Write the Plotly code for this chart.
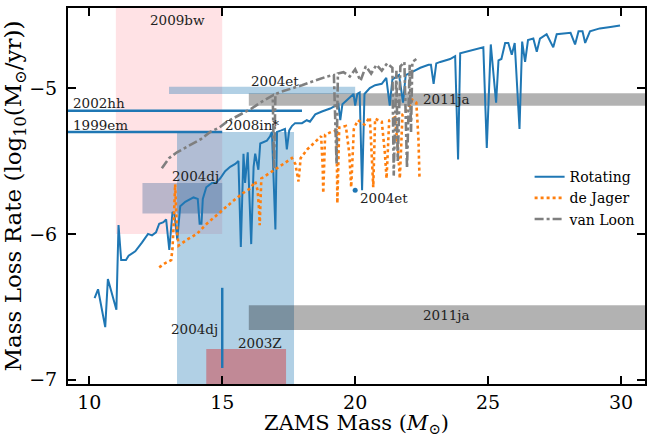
import plotly.graph_objects as go

# ---------------- data ----------------
rot_x = [10.20, 10.33, 10.60, 10.70, 11.02, 11.10, 11.20, 11.38, 11.48, 11.73, 11.98, 12.21, 12.36, 12.51,
         12.63, 12.79, 12.89, 13.01, 13.13, 13.20, 13.31, 13.42, 13.61, 13.92, 14.08, 14.15, 14.22, 14.27,
         14.40, 14.61, 14.75, 14.92, 15.11, 15.30, 15.49, 15.61, 15.70, 15.80, 15.86, 15.96, 16.09, 16.18,
         16.24, 16.36, 16.43, 16.55, 16.68, 16.80, 16.87, 17.00, 17.06, 17.22, 17.36, 17.43, 17.52, 17.62,
         17.74, 18.00, 18.18, 18.30, 18.50, 18.75, 19.06, 19.37, 19.44, 19.52, 19.81, 19.94, 20.00, 20.08,
         20.17, 20.26, 20.35, 20.55, 20.75, 21.00, 21.17, 21.30, 21.40, 21.65, 21.80, 21.90, 22.13, 22.45,
         22.76, 22.85, 22.95, 23.05, 23.20, 23.35, 23.57, 23.76, 23.87, 23.95, 24.38, 24.82, 24.95, 25.10,
         25.30, 25.39, 25.50, 25.64, 25.76, 25.89, 26.00, 26.18, 26.28, 26.39, 26.50, 26.70, 26.83, 26.95,
         27.20, 27.45, 27.58, 27.96, 28.10, 28.27, 28.40, 28.55, 28.65, 28.83, 29.20, 29.60, 29.96]
rot_y = [-6.44, -6.38, -6.64, -6.31, -6.52, -5.94, -6.18, -6.18, -6.15, -6.12, -6.06, -6.00, -6.01, -5.99,
         -5.93, -5.92, -5.90, -6.11, -5.85, -5.86, -6.04, -5.81, -5.78, -5.75, -5.76, -5.93, -5.93, -5.76,
         -5.68, -5.65, -5.65, -5.62, -5.57, -5.54, -5.52, -5.50, -6.09, -5.45, -5.65, -5.44, -6.07, -5.54,
         -5.45, -5.56, -5.38, -5.37, -5.36, -5.33, -5.30, -5.97, -5.30, -5.29, -5.28, -5.42, -5.29, -5.26,
         -5.24, -5.24, -5.22, -5.23, -5.18, -5.16, -5.14, -5.11, -5.22, -5.11, -5.06, -5.04, -5.12, -5.04,
         -5.03, -5.70, -5.04, -5.00, -4.98, -4.97, -4.93, -5.12, -4.94, -4.91, -5.10, -4.91, -4.89, -4.86,
         -4.84, -4.84, -4.97, -4.83, -4.82, -4.81, -4.80, -4.78, -5.49, -4.76, -4.74, -4.72, -5.41, -4.70,
         -5.10, -4.81, -4.80, -4.69, -4.69, -4.77, -4.69, -5.28, -4.68, -4.82, -4.67, -4.66, -4.75, -4.66,
         -4.63, -4.72, -4.63, -4.62, -4.62, -4.70, -4.61, -4.61, -4.69, -4.61, -4.59, -4.58, -4.57]

dej_x = [12.63, 12.86, 13.08, 13.13, 13.17, 13.20, 13.23, 13.27, 13.31, 13.36, 13.67, 14.05, 14.42, 14.80,
         15.18, 15.50, 15.86, 16.05, 16.24, 16.33, 16.38, 16.41, 16.47, 16.90, 17.30, 17.62, 17.75, 17.87,
         17.95, 18.20, 18.55, 18.72, 18.78, 18.80, 18.87, 19.10, 19.30, 19.33, 19.40, 19.65, 19.78, 19.85,
         19.95, 20.10, 20.35, 20.55, 20.62, 20.68, 20.75, 21.00, 21.12, 21.18, 21.28, 21.50, 21.60, 21.68,
         21.78, 22.00, 22.15, 22.30, 22.38, 22.42]
dej_y = [-6.23, -6.20, -6.18, -6.10, -5.95, -5.80, -5.66, -5.85, -6.00, -6.08, -6.04, -6.00, -5.93, -5.87,
         -5.81, -5.76, -5.71, -5.69, -5.64, -5.70, -5.82, -5.94, -5.62, -5.57, -5.52, -5.48, -5.52, -5.64,
         -5.48, -5.42, -5.36, -5.33, -5.55, -5.72, -5.32, -5.30, -5.29, -5.79, -5.27, -5.26, -5.45, -5.68,
         -5.28, -5.22, -5.25, -5.20, -5.45, -5.68, -5.21, -5.23, -5.45, -5.62, -5.22, -5.20, -5.40, -5.62,
         -5.18, -5.14, -5.08, -5.10, -5.35, -5.62]

vl_x = [12.73, 13.00, 13.30, 13.60, 13.92, 14.20, 14.55, 14.90, 15.18, 15.50, 15.80, 16.10, 16.43, 16.70,
        16.90, 16.95, 17.00, 17.30, 17.68, 18.00, 18.31, 18.60, 18.94, 19.20, 19.30, 19.35, 19.56, 19.80,
        20.00, 20.20, 20.40, 20.60, 20.80, 21.00, 21.20, 21.40, 21.45, 21.55, 21.60, 21.70, 21.85, 21.95,
        22.05, 22.10, 22.15, 22.30]
vl_y = [-5.55, -5.48, -5.44, -5.41, -5.38, -5.35, -5.30, -5.27, -5.23, -5.20, -5.17, -5.14, -5.10, -5.07,
        -5.05, -5.55, -5.04, -5.02, -5.00, -4.98, -4.96, -4.94, -4.92, -4.91, -5.52, -4.90, -4.89, -4.92,
        -4.87, -4.95, -4.85, -4.90, -4.84, -4.88, -4.83, -4.86, -5.60, -4.88, -5.50, -4.85, -4.82, -5.55,
        -4.84, -5.30, -4.82, -4.80]

# observed SN constraints: (name, x0, x1, y0, y1, fill)
sn_boxes = [
    ("2009bw", 11.0, 15.0, -6.00, -4.40, "rgba(255,150,160,0.28)"),
    ("2008in*", 13.3, 17.7, -7.10, -5.30, "rgba(31,119,180,0.35)"),
    ("2003Z", 14.4, 17.4, -7.10, -6.79, "rgba(214,39,40,0.42)"),
    ("2011ja", 16.0, 31.5, -5.12, -5.035, "rgba(0,0,0,0.30)"),
    ("2011ja", 16.0, 31.5, -6.66, -6.49, "rgba(0,0,0,0.30)"),
    ("2004dj", 12.0, 15.0, -5.86, -5.65, "rgba(27,80,140,0.30)"),
    ("2004et", 13.0, 20.0, -5.04, -4.99, "rgba(31,119,180,0.35)"),
]
# horizontal / vertical line constraints: (x0, x1, y0, y1)
sn_lines = {
    "2002hh": (9.0, 18.0, -5.155, -5.155),
    "1999em": (9.0, 15.0, -5.30, -5.30),
    "2004dj": (15.0, 15.0, -6.37, -6.92),
}
pt_2004et = (20.0, -5.70)

# labels: (text, x, y, xanchor)
sn_labels = [
    ("2009bw", 13.3, -4.53, "center"),
    ("2004et", 16.0, -4.95, "left"),
    ("2011ja", 22.48, -5.075, "left"),
    ("2002hh", 9.3, -5.10, "left"),
    ("1999em", 9.3, -5.25, "left"),
    ("2008in*", 15.04, -5.25, "left"),
    ("2004dj", 13.05, -5.60, "left"),
    ("2004et", 20.12, -5.755, "left"),
    ("2011ja", 22.48, -6.555, "left"),
    ("2004dj", 14.93, -6.65, "right"),
    ("2003Z", 15.52, -6.75, "left"),
]

x_ticks = [10, 15, 20, 25, 30]
y_ticks = [-7, -6, -5]

BLUE = "#1f77b4"
ORANGE = "#ff7f0e"
GRAY = "#7f7f7f"
FONT = "DejaVu Serif"

fig = go.Figure()

for name, x0, x1, y0, y1, col in sn_boxes:
    fig.add_shape(type="rect", x0=x0, x1=x1, y0=y0, y1=y1, fillcolor=col,
                  line=dict(width=0), layer="below")

for name, (x0, x1, y0, y1) in sn_lines.items():
    fig.add_trace(go.Scatter(x=[x0, x1], y=[y0, y1], mode="lines",
                             line=dict(color=BLUE, width=2.5), showlegend=False, hoverinfo="skip"))

fig.add_trace(go.Scatter(x=rot_x, y=rot_y, mode="lines", name="Rotating",
                         line=dict(color=BLUE, width=2)))
fig.add_trace(go.Scatter(x=dej_x, y=dej_y, mode="lines", name="de Jager",
                         line=dict(color=ORANGE, width=2.6, dash="dot")))
fig.add_trace(go.Scatter(x=vl_x, y=vl_y, mode="lines", name="van Loon",
                         line=dict(color=GRAY, width=2.6, dash="dashdot")))
fig.add_trace(go.Scatter(x=[pt_2004et[0]], y=[pt_2004et[1]], mode="markers",
                         marker=dict(color=BLUE, size=5), showlegend=False))

for text, x, y, xa in sn_labels:
    fig.add_annotation(x=x, y=y, text=text, showarrow=False, xanchor=xa, yanchor="middle",
                       font=dict(family=FONT, size=13.5, color="#222"))

axis_common = dict(showline=True, linewidth=2, linecolor="black", mirror="ticks",
                   ticks="inside", ticklen=8, tickwidth=2, tickcolor="black",
                   showgrid=False, zeroline=False, automargin=False,
                   tickfont=dict(family=FONT, size=19, color="black"))

fig.update_xaxes(range=[9.2, 30.9], tickvals=x_ticks,
                 title=dict(text="ZAMS Mass (<i>M</i><sub>⊙</sub>)",
                            font=dict(family=FONT, size=21, color="black")),
                 **axis_common)
fig.update_yaxes(range=[-7.03, -4.45], tickvals=y_ticks, ticklabelstandoff=5,
                 title=dict(text="Mass Loss Rate (log<sub>10</sub>(M<sub>⊙</sub>/yr))",
                            font=dict(family=FONT, size=23, color="black")),
                 **axis_common)

fig.update_layout(
    width=647, height=437,
    margin=dict(l=68, r=2, t=8, b=53),
    plot_bgcolor="white", paper_bgcolor="white",
    legend=dict(x=0.80, y=0.593, xanchor="left", yanchor="top",
                bgcolor="rgba(0,0,0,0)", borderwidth=0,
                font=dict(family=FONT, size=14, color="black"),
                tracegroupgap=0, itemwidth=30),
)

fig.write_html("out.html")
